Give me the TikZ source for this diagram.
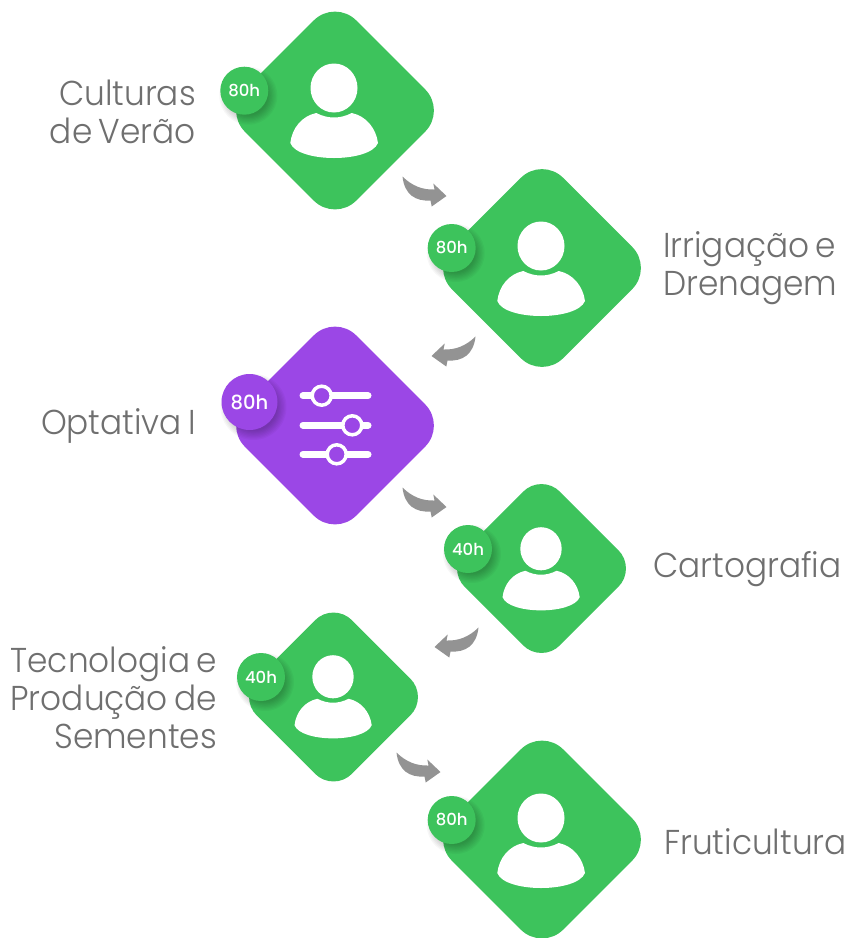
\documentclass[tikz,border=0pt]{standalone}
\usepackage{fontspec}
\setmainfont{Poppins}[UprightFont=* Light,FakeStretch=0.95,WordSpace=0.7]
\newfontfamily\badgefont{Poppins}[UprightFont=* Medium]
\definecolor{cardgreen}{HTML}{3DC35C}
\definecolor{cardpurple}{HTML}{9B47E6}
\definecolor{arrowgray}{HTML}{939393}
\definecolor{labelgray}{HTML}{6F6F6F}
\tikzset{
  x=1pt,y=-1pt,
  bigcard/.style={diamond,inner sep=0pt,minimum width=222.8pt,minimum height=222.8pt,rounded corners=30pt,fill=#1},
  smallcard/.style={diamond,inner sep=0pt,minimum width=190.6pt,minimum height=190.6pt,rounded corners=26pt,fill=#1},
  badge/.style={circle,inner sep=0pt,minimum size=48pt,fill=#1,text=white,font=\badgefont\fontsize{16.5}{17}\selectfont},
  biglabel/.style={text=labelgray,inner sep=0pt,font=\fontsize{34.5}{38}\selectfont,align=#1},
  flowarrow/.style={fill=arrowgray},
  knob/.style={circle,inner sep=0pt,minimum size=19pt,fill=cardpurple,draw=white,line width=3.5pt},
  sliderbar/.style={draw=white,line width=7pt,line cap=round}
}
% #1 centre, #2 scale
\newcommand{\personicon}[2]{%
  \begin{scope}[shift={#1},scale=#2]
    \fill[white] (0,-23) ellipse [x radius=23.5,y radius=24.5];
    \fill[white] (-43.7,32) .. controls (-42,17) and (-32,5) .. (-17.7,2)
      .. controls (-12,5) and (-6,6.5) .. (0,6.5)
      .. controls (6,6.5) and (12,5) .. (17.7,2)
      .. controls (32,5) and (42,17) .. (44,32)
      .. controls (40,42) and (20,47) .. (0,47)
      .. controls (-20,47) and (-40,42) .. (-43.7,32) -- cycle;
  \end{scope}}
% #1 transform options: drawn from the shape of the first arrow
\newcommand{\bentarrow}[1]{%
  \fill[flowarrow,#1] (402.5,176.5) .. controls (412,186) and (423,190) .. (434.5,189.5)
    -- (433.3,183.5) -- (446.5,196) -- (431.7,206.5) -- (430.5,200.5)
    .. controls (416,201.5) and (404.5,195) .. (402.5,176.5) -- cycle;}
% #1 centre, #2 radius
\newcommand{\badgeshadow}[2]{%
  \foreach \k in {0,1,...,7}{
    \fill[black,opacity=0.03] ($#1+(4,5)$) circle ({#2+5-\k*1.3});
  }}
\usetikzlibrary{shapes.geometric,calc}
\begin{document}
\begin{tikzpicture}
\useasboundingbox (0,0) rectangle (859,938);
\fill[white] (0,0) rectangle (859,938);

\node[bigcard=cardgreen] (c1) at (335,110.5) {};
\node[bigcard=cardgreen] (c2) at (542,268) {};
\node[bigcard=cardpurple] (c3) at (335,425.5) {};
\node[smallcard=cardgreen] (c4) at (541.5,568.5) {};
\node[smallcard=cardgreen] (c5) at (333.5,697) {};
\node[bigcard=cardgreen] (c6) at (542,839.5) {};

\personicon{(334,111)}{1}
\personicon{(541,269)}{1}
\personicon{(541,569)}{0.88}
\personicon{(333,697)}{0.88}
\personicon{(541,841)}{1}

% sliders
\draw[sliderbar] (303,395.7) -- (368,395.7);
\draw[sliderbar] (303,425.3) -- (368,425.3);
\draw[sliderbar] (303,454.3) -- (368,454.3);
\node[knob] (k1) at (321.7,395.7) {};
\node[knob] (k2) at (352.3,425.3) {};
\node[knob] (k3) at (336.7,454.3) {};

% arrows
\bentarrow{}
\bentarrow{shift={(878,160)},xscale=-1}
\bentarrow{shift={(0,311)}}
\bentarrow{shift={(881,451)},xscale=-1}
\bentarrow{shift={(-6,576)}}

% badges
\badgeshadow{(244.3,90.7)}{24}
\node[badge=cardgreen] (b1) at (244.3,90.7) {80h};
\badgeshadow{(451.7,248)}{24}
\node[badge=cardgreen] (b2) at (451.7,248) {80h};
\badgeshadow{(249.5,402)}{28}
\node[badge=cardpurple,minimum size=56pt,font=\badgefont\fontsize{19.5}{20}\selectfont] (b3) at (249.5,402) {80h};
\badgeshadow{(468,549)}{24}
\node[badge=cardgreen] (b4) at (468,549) {40h};
\badgeshadow{(261,677)}{24}
\node[badge=cardgreen] (b5) at (261,677) {40h};
\badgeshadow{(451.7,820)}{24}
\node[badge=cardgreen] (b6) at (451.7,820) {80h};

% labels
\node[biglabel=right,anchor=east] (t1) at (196,112) {Culturas\\de Verão};
\node[biglabel=left,anchor=west] (t2) at (663,268) {Irrigação e\\Drenagem};
\node[biglabel=right,anchor=east] (t3) at (196,426) {Optativa I};
\node[biglabel=left,anchor=west] (t4) at (653,569) {Cartografia};
\node[biglabel=right,anchor=east] (t5) at (217,698) {Tecnologia e\\Produção de\\Sementes};
\node[biglabel=left,anchor=west] (t6) at (664,842) {Fruticultura};
\end{tikzpicture}
\end{document}
